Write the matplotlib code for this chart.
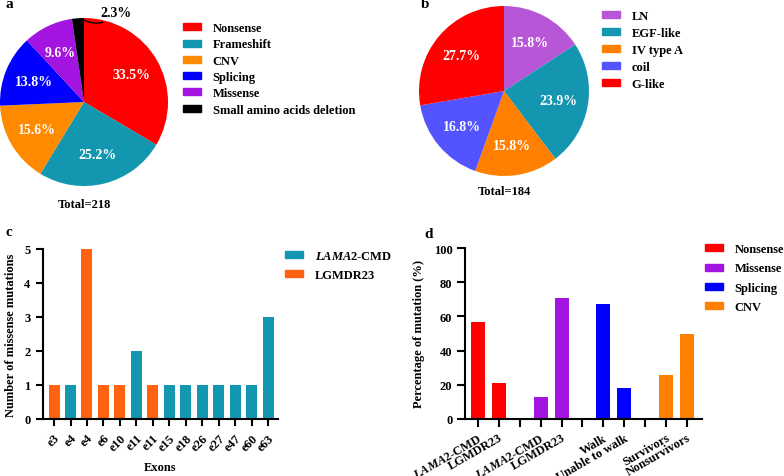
import numpy as np
import matplotlib
matplotlib.use('Agg')
import matplotlib.pyplot as plt
from matplotlib.patches import Patch

plt.rcParams['font.family'] = 'Liberation Serif'
plt.rcParams['font.weight'] = 'bold'
plt.rcParams['mathtext.fontset'] = 'custom'
plt.rcParams['mathtext.it'] = 'Liberation Serif:italic:bold'
plt.rcParams['mathtext.rm'] = 'Liberation Serif:bold'
plt.rcParams['axes.linewidth'] = 1.5

# panel a: mutation types
a_labels = ['Nonsense', 'Frameshift', 'CNV', 'Splicing', 'Missense', 'Small amino acids deletion']
a_values = [33.5, 25.2, 15.6, 13.8, 9.6, 2.3]
a_colors = ['#ff0000', '#1396b0', '#ff8a00', '#0000ff', '#a414e0', '#000000']
a_total = 218

# panel b: domains
b_labels = ['LN', 'EGF-like', 'IV type A', 'coil', 'G-like']
b_values = [15.8, 23.9, 15.8, 16.8, 27.7]
b_colors = ['#b757d8', '#1596b0', '#ff8000', '#5353ff', '#ff0000']
b_total = 184

# panel c: missense mutations per exon
c_exons = ['e3', 'e4', 'e4', 'e6', 'e10', 'e11', 'e11', 'e15', 'e18', 'e26', 'e27', 'e47', 'e60', 'e63']
c_counts = [1, 1, 5, 1, 1, 2, 1, 1, 1, 1, 1, 1, 1, 3]
c_group = ['L', 'C', 'L', 'L', 'L', 'C', 'L', 'C', 'C', 'C', 'C', 'C', 'C', 'C']
c_colors = {'C': '#1396b0', 'L': '#ff6210'}

# panel d: percentage of mutation by group
d_types = ['Nonsense', 'Missense', 'Splicing', 'CNV']
d_colors = ['#ff0000', '#a414e0', '#0000ff', '#ff8000']
d_cats = [['$\\it{LAMA2}$-CMD', 'LGMDR23'], ['$\\it{LAMA2}$-CMD', 'LGMDR23'],
          ['Walk', 'Unable to walk'], ['Survivors', 'Nonsurvivors']]
d_values = [[57, 21], [13, 71], [67, 18], [26, 50]]

W, H = 784, 477
FS = 9
fig = plt.figure(figsize=(W / 100, H / 100), dpi=100)

def box(x0, y0, x1, y1):
    return [x0 / W, 1 - y1 / H, (x1 - x0) / W, (y1 - y0) / H]

def legend(handles, labels, x, y, spacing):
    fig.legend(handles, labels, loc='upper left', bbox_to_anchor=(x / W, 1 - y / H),
               frameon=False, fontsize=FS, handlelength=1.45, handleheight=0.5,
               handletextpad=0.9, labelspacing=spacing)

# ---- a
ax = fig.add_axes(box(0, 19, 168, 187))
wedges, texts, pcts = ax.pie(a_values, colors=a_colors, startangle=90, counterclock=False,
                             autopct='%1.1f%%', pctdistance=0.65,
                             wedgeprops=dict(linewidth=0),
                             textprops=dict(color='white', fontsize=10, fontweight='bold'))
pcts[-1].set_visible(False)
ax.annotate('2.3%', xy=(-0.03, 0.99), xytext=(0.2, 1.06), ha='left', va='center',
            fontsize=10, fontweight='bold', annotation_clip=False,
            arrowprops=dict(arrowstyle='-', color='black', lw=1,
                            connectionstyle='arc3,rad=-0.4', shrinkA=0, shrinkB=0))
ax.set_xlim(-1, 1); ax.set_ylim(-1, 1)
ax.text(0, -1.21, 'Total=%d' % a_total, ha='center', va='center', fontsize=FS, fontweight='bold')
legend([Patch(color=c) for c in a_colors], a_labels, 172, 12, 0.34)
fig.text(5 / W, 1 - 5 / H, 'a', fontsize=11, fontweight='bold', va='center')

# ---- b
ax = fig.add_axes(box(419, 7, 589, 177))
ax.pie(b_values, colors=b_colors, startangle=90, counterclock=False,
       autopct='%1.1f%%', pctdistance=0.65, wedgeprops=dict(linewidth=0),
       textprops=dict(color='white', fontsize=10, fontweight='bold'))
ax.set_xlim(-1, 1); ax.set_ylim(-1, 1)
ax.text(0, -1.18, 'Total=%d' % b_total, ha='center', va='center', fontsize=FS, fontweight='bold')
legend([Patch(color=c) for c in b_colors], b_labels, 591, 0, 0.4)
fig.text(421 / W, 1 - 5 / H, 'b', fontsize=11, fontweight='bold', va='center')

# ---- c
ax = fig.add_axes(box(43, 250, 278, 420))
x = np.arange(len(c_exons))
ax.bar(x, c_counts, width=0.67, color=[c_colors[g] for g in c_group])
ax.set_xlim(-0.67, len(c_exons) - 0.4)
ax.set_ylim(0, 5)
ax.set_xticks(x)
ax.set_xticklabels(c_exons, rotation=45, ha='right', rotation_mode='anchor', fontsize=FS)
ax.set_yticks(range(6))
ax.tick_params(labelsize=FS, width=1.5, length=5, pad=4)
ax.set_ylabel('Number of missense mutations', fontsize=FS, fontweight='bold', labelpad=5)
ax.set_xlabel('Exons', fontsize=FS, fontweight='bold', labelpad=6)
for s in ['top', 'right']:
    ax.spines[s].set_visible(False)
legend([Patch(color=c_colors['C']), Patch(color=c_colors['L'])],
       ['$\\it{LAMA2}$-CMD', 'LGMDR23'], 274, 240, 0.56)
fig.text(5 / W, 1 - 233 / H, 'c', fontsize=11, fontweight='bold', va='center')

# ---- d
ax = fig.add_axes(box(465, 249, 702, 420))
pos, labels = [], []
k = 0
for i, (cats, vals) in enumerate(zip(d_cats, d_values)):
    px = [k, k + 1]
    ax.bar(px, vals, width=0.67, color=d_colors[i])
    pos += px; labels += cats
    k += 3
ticks = np.arange(k - 1)
ax.set_xticks(ticks)
tick_labels = [''] * len(ticks)
for p, l in zip(pos, labels):
    tick_labels[p] = l
ax.set_xticklabels(tick_labels, rotation=30, ha='right', rotation_mode='anchor', fontsize=FS)
ax.set_xlim(-0.62, k - 2 + 0.72)
ax.set_ylim(0, 100)
ax.set_yticks(range(0, 101, 20))
ax.tick_params(labelsize=FS, width=1.5, length=6, pad=3)
ax.set_ylabel('Percentage of mutation (%)', fontsize=FS, fontweight='bold', labelpad=6)
for s in ['top', 'right']:
    ax.spines[s].set_visible(False)
legend([Patch(color=c) for c in d_colors], d_types, 694, 233, 0.58)
fig.text(424 / W, 1 - 235 / H, 'd', fontsize=11, fontweight='bold', va='center')

fig.savefig('out.png', dpi=100)
